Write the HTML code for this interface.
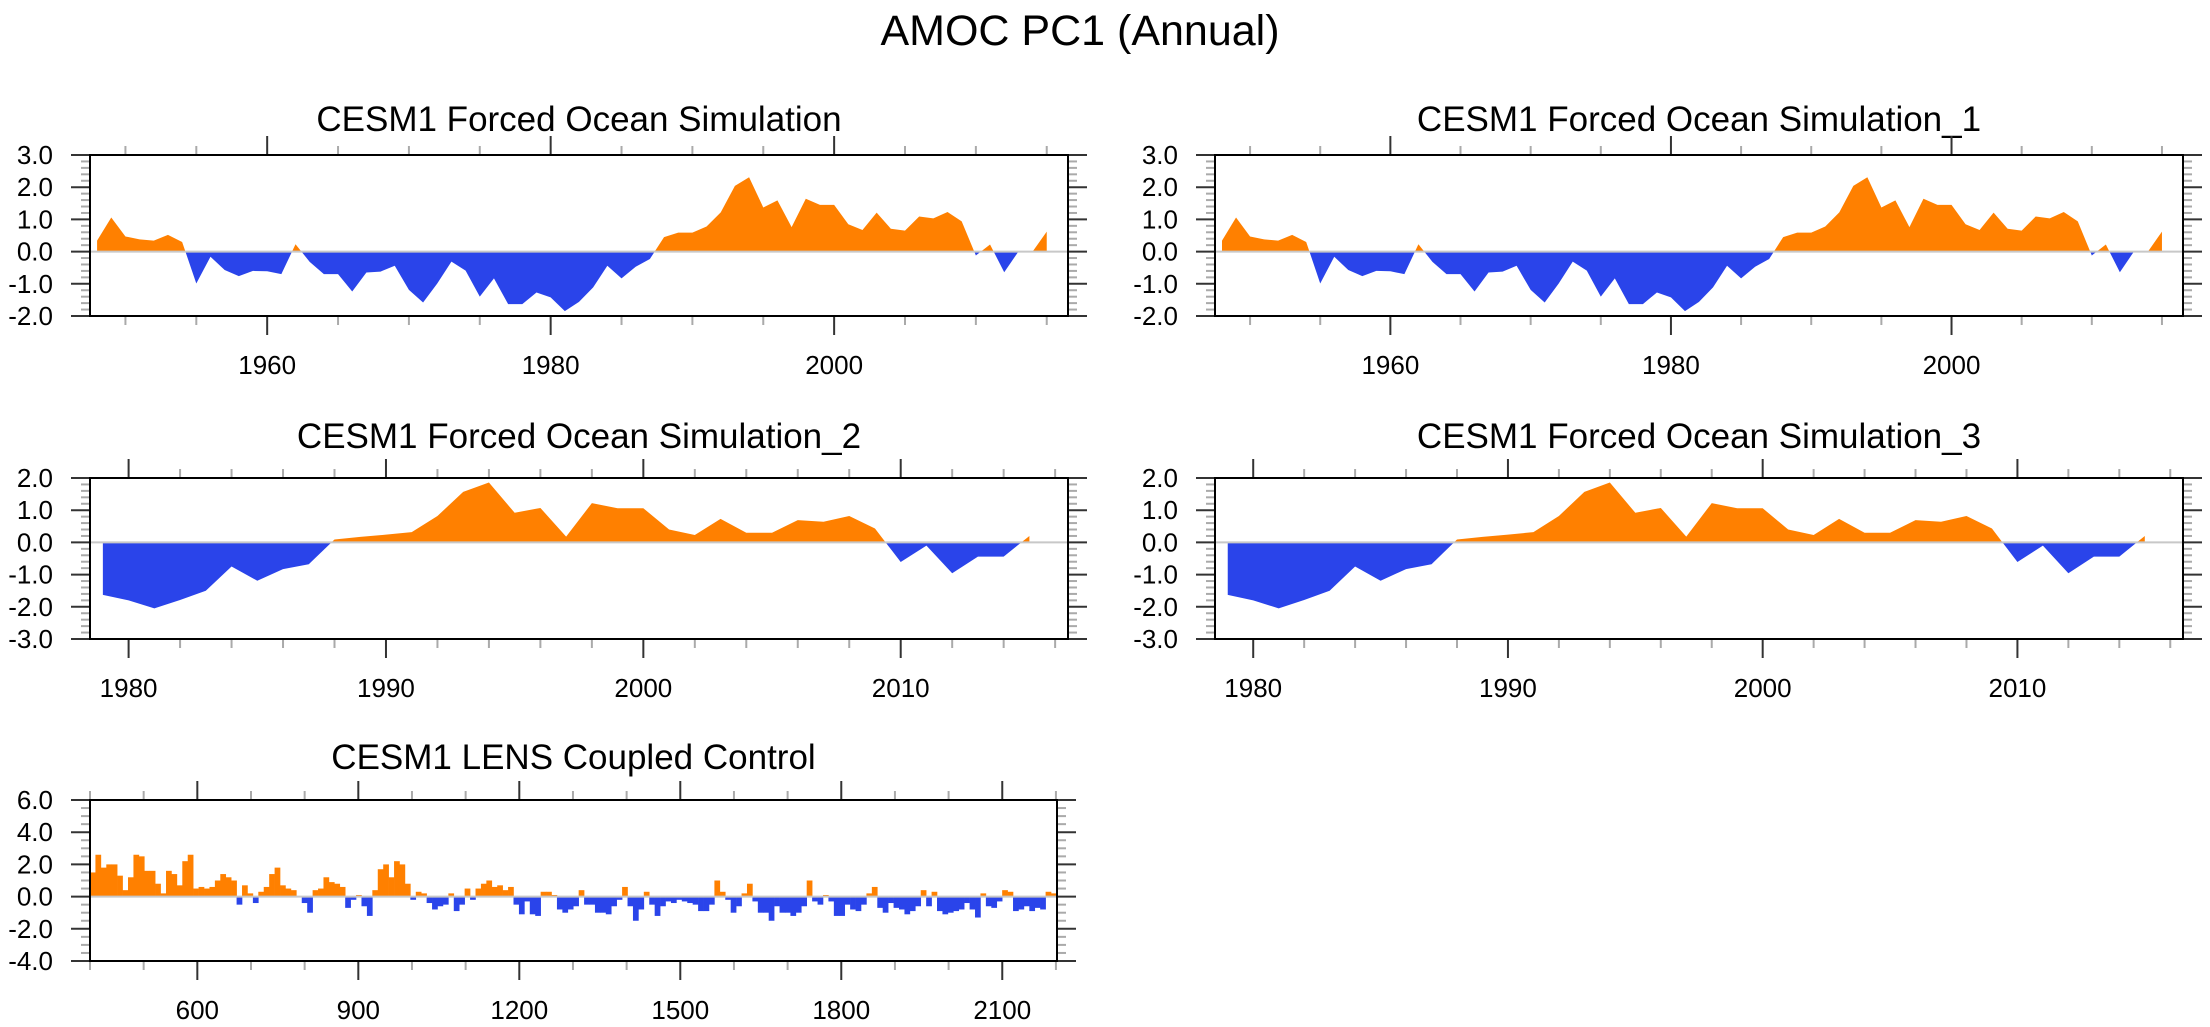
<!DOCTYPE html>
<html><head><meta charset="utf-8">
<style>
html,body{margin:0;padding:0;background:#fff;}
svg{display:block;font-family:"Liberation Sans",Arial,sans-serif;}
</style></head>
<body>
<svg id="fig" width="2210" height="1027" viewBox="0 0 2210 1027" xmlns="http://www.w3.org/2000/svg">
<rect width="2210" height="1027" fill="#fff"/>
<text x="1080" y="45" font-size="43" text-anchor="middle" fill="#000">AMOC PC1 (Annual)</text>
</svg>
<script>
// ---- data ----
const forcedYears = [1948,1949,1950,1951,1952,1953,1954,1955,1956,1957,1958,1959,1960,1961,1962,1963,1964,1965,1966,1967,1968,1969,1970,1971,1972,1973,1974,1975,1976,1977,1978,1979,1980,1981,1982,1983,1984,1985,1986,1987,1988,1989,1990,1991,1992,1993,1994,1995,1996,1997,1998,1999,2000,2001,2002,2003,2004,2005,2006,2007,2008,2009,2010,2011,2012,2013,2014,2015];
const forcedValues = [0.34,1.06,0.47,0.38,0.34,0.52,0.30,-0.99,-0.16,-0.57,-0.76,-0.60,-0.61,-0.70,0.23,-0.32,-0.70,-0.70,-1.24,-0.65,-0.62,-0.44,-1.19,-1.58,-0.99,-0.31,-0.59,-1.40,-0.83,-1.63,-1.63,-1.27,-1.42,-1.85,-1.56,-1.11,-0.44,-0.83,-0.47,-0.23,0.45,0.59,0.59,0.78,1.22,2.04,2.31,1.37,1.59,0.76,1.64,1.45,1.45,0.85,0.67,1.21,0.71,0.65,1.09,1.03,1.23,0.94,-0.12,0.22,-0.64,0.0,0.0,0.62];
const shortYears = [1979,1980,1981,1982,1983,1984,1985,1986,1987,1988,1989,1990,1991,1992,1993,1994,1995,1996,1997,1998,1999,2000,2001,2002,2003,2004,2005,2006,2007,2008,2009,2010,2011,2012,2013,2014,2015];
const shortValues = [-1.63,-1.80,-2.05,-1.79,-1.50,-0.75,-1.19,-0.83,-0.68,0.09,0.17,0.24,0.32,0.82,1.57,1.86,0.92,1.07,0.18,1.22,1.06,1.06,0.40,0.23,0.73,0.30,0.30,0.69,0.64,0.82,0.43,-0.61,-0.10,-0.96,-0.44,-0.44,0.20];
const controlStartYear = 400;
const controlEndYear = 2201;
const controlValues = [1.5,2.6,1.8,2.0,2.0,1.3,0.4,1.2,2.6,2.5,1.6,1.6,0.8,0.2,1.6,1.4,0.7,2.2,2.6,0.5,
0.6,0.5,0.6,1.0,1.4,1.2,1.0,-0.5,0.7,0.2,-0.4,0.3,0.6,1.4,1.8,0.7,0.5,0.4,0.0,-0.4,
-1.0,0.4,0.5,1.2,0.9,0.8,0.6,-0.7,-0.2,0.1,-0.6,-1.2,0.4,1.7,2.0,1.2,2.2,2.0,0.8,-0.2,
0.3,0.2,-0.4,-0.8,-0.6,-0.5,0.2,-0.9,-0.5,0.5,-0.2,0.5,0.8,1.0,0.6,0.7,0.4,0.6,-0.5,-1.1,
-0.3,-1.1,-1.2,0.3,0.3,0.1,-0.8,-1.0,-0.8,-0.6,
0.4,-0.5,-0.5,-1.0,-1.0,-1.1,-0.6,-0.2,0.6,-0.6,-1.5,-0.8,0.3,-0.5,-1.2,-0.6,-0.3,-0.4,-0.2,-0.3,
-0.4,-0.5,-0.9,-0.9,-0.5,1.0,0.3,-0.2,-1.0,-0.6,0.2,0.8,-0.3,-1.0,-1.0,-1.5,-0.6,-1.0,-1.0,-1.2,
-1.0,-0.6,1.0,-0.3,-0.5,0.1,-0.3,-1.2,-1.2,-0.5,-0.8,-0.9,-0.5,0.2,0.6,-0.7,-1.0,-0.4,-0.7,-0.8,
-1.1,-0.9,-0.6,0.4,-0.6,0.3,-0.9,-1.1,-1.0,-0.9,-0.8,-0.4,-0.8,-1.3,0.2,-0.6,-0.7,-0.3,0.4,0.3,
-0.9,-0.8,-0.6,-0.9,-0.7,-0.8,0.3,0.2];
const yTicks5 = ["3.0","2.0","1.0","0.0","-1.0","-2.0"];
const yTicks34 = ["2.0","1.0","0.0","-1.0","-2.0","-3.0"];
const yTicksCtl = ["6.0","4.0","2.0","0.0","-2.0","-4.0"];
const xLabelsForced = [1960,1980,2000];
const xLabelsShort = [1980,1990,2000,2010];
const xLabelsCtl = [600,900,1200,1500,1800,2100];

const NS = "http://www.w3.org/2000/svg";
const svg = document.getElementById('fig');
const ORANGE = "#ff8000", BLUE = "#2a44ea";
function mk(tag, attrs, parent){const e=document.createElementNS(NS,tag);for(const k in attrs)e.setAttribute(k,attrs[k]);(parent||svg).appendChild(e);return e;}
let clipId=0;

function panel(cfg){
  const g = mk('g',{});
  
  
  const xs = v => cfg.x0 + (v-cfg.xmin)/(cfg.xmax-cfg.xmin)*(cfg.x1-cfg.x0);
  const ys = v => cfg.y1 - (v-cfg.ymin)/(cfg.ymax-cfg.ymin)*(cfg.y1-cfg.y0);
  const zy = ys(0);
  // title
  const t = mk('text',{x:(cfg.x0+cfg.x1)/2,y:cfg.titleY,'font-size':35,'text-anchor':'middle',fill:'#000'},g);
  t.textContent = cfg.title;
  
  
  // data
  const dg = mk('g',{},g);
  
  
  if(cfg.years){
    let d = `M${xs(cfg.years[0])},${zy}`;
    cfg.years.forEach((yr,i)=>{ d += ` L${xs(yr)},${ys(cfg.values[i])}`; });
    d += ` L${xs(cfg.years[cfg.years.length-1])},${zy} Z`;
    const ida='ca'+(clipId++), idb='cb'+(clipId++);
    const defs = mk('defs',{},g);
    const c1 = mk('clipPath',{id:ida},defs); mk('rect',{x:cfg.x0,y:cfg.y0,width:cfg.x1-cfg.x0,height:zy-cfg.y0},c1);
    const c2 = mk('clipPath',{id:idb},defs); mk('rect',{x:cfg.x0,y:zy,width:cfg.x1-cfg.x0,height:cfg.y1-zy},c2);
    const pa = mk('path',{d:d,fill:ORANGE,'clip-path':`url(#${ida})`},dg);
    
    
    const pb = mk('path',{d:d,fill:BLUE,'clip-path':`url(#${idb})`},dg);
    
    
  } else {
    const n = cfg.bins.length;
    const w = (cfg.binEnd-cfg.binStart)/n;
    cfg.bins.forEach((v,i)=>{
      const xa = xs(cfg.binStart+i*w), xb = xs(cfg.binStart+(i+1)*w);
      const yv = ys(v);
      const r = mk('rect',{x:xa,y:Math.min(yv,zy),width:xb-xa+0.3,height:Math.abs(yv-zy),fill:v>=0?ORANGE:BLUE},dg);
      
      
    });
  }
  mk('line',{x1:cfg.x0,x2:cfg.x1,y1:zy,y2:zy,stroke:'#c8c8c8','stroke-width':2},g);
  // y ticks
  for(let v=cfg.ymin; v<=cfg.ymax+1e-9; v+=cfg.yminor){
    const y=ys(v); const major = Math.abs(v/cfg.ymajor-Math.round(v/cfg.ymajor))<1e-6;
    const L = major?19:9;
    mk('line',{x1:cfg.x0-L,x2:cfg.x0,y1:y,y2:y,stroke:major?'#333':'#aaa','stroke-width':2},g);
    mk('line',{x1:cfg.x1,x2:cfg.x1+L,y1:y,y2:y,stroke:major?'#333':'#aaa','stroke-width':2},g);
  }
  cfg.yLabels.forEach((lab,i)=>{
    const v = cfg.ymax - i*cfg.ymajor;
    const tx = mk('text',{x:cfg.x0-37,y:ys(v)+9,'font-size':26,'text-anchor':'end',fill:'#000'},g);
    tx.textContent = lab;
    
    
  });
  // x ticks
  const start = Math.ceil(cfg.xmin/cfg.xminor)*cfg.xminor;
  for(let v=start; v<=cfg.xmax; v+=cfg.xminor){
    const x=xs(v); const major = cfg.xLabels.includes(v);
    const L = major?19:9;
    mk('line',{x1:x,x2:x,y1:cfg.y1,y2:cfg.y1+L,stroke:major?'#333':'#aaa','stroke-width':2},g);
    mk('line',{x1:x,x2:x,y1:cfg.y0-L,y2:cfg.y0,stroke:major?'#333':'#aaa','stroke-width':2},g);
  }
  cfg.xLabels.forEach(v=>{
    const tx = mk('text',{x:xs(v),y:cfg.y1+58,'font-size':26,'text-anchor':'middle',fill:'#000'},g);
    tx.textContent = v;
    
    
  });
  // frame
  const fr = mk('rect',{x:cfg.x0,y:cfg.y0,width:cfg.x1-cfg.x0,height:cfg.y1-cfg.y0,fill:'none',stroke:'#000','stroke-width':2},g);
  
  
}

const forcedBase = {xmin:1947.5,xmax:2016.5,ymin:-2,ymax:3,ymajor:1,yminor:0.2,xminor:5,xLabels:xLabelsForced,yLabels:yTicks5,years:forcedYears,values:forcedValues};
const shortBase = {xmin:1978.5,xmax:2016.5,ymin:-3,ymax:2,ymajor:1,yminor:0.2,xminor:2,xLabels:xLabelsShort,yLabels:yTicks34,years:shortYears,values:shortValues};
panel(Object.assign({},forcedBase,{name:'panel-forced-ocean',title:'CESM1 Forced Ocean Simulation',x0:90,x1:1068,y0:155,y1:316,titleY:131}));
panel(Object.assign({},forcedBase,{name:'panel-forced-ocean-1',title:'CESM1 Forced Ocean Simulation_1',x0:1215,x1:2183,y0:155,y1:316,titleY:131}));
panel(Object.assign({},shortBase,{name:'panel-forced-ocean-2',title:'CESM1 Forced Ocean Simulation_2',x0:90,x1:1068,y0:478,y1:639,titleY:448}));
panel(Object.assign({},shortBase,{name:'panel-forced-ocean-3',title:'CESM1 Forced Ocean Simulation_3',x0:1215,x1:2183,y0:478,y1:639,titleY:448}));
panel({name:'panel-lens-control',title:'CESM1 LENS Coupled Control',x0:90,x1:1057,y0:800,y1:961,titleY:769,
  xmin:400,xmax:2202,ymin:-4,ymax:6,ymajor:2,yminor:0.5,xminor:100,xLabels:xLabelsCtl,yLabels:yTicksCtl,
  bins:controlValues,binStart:controlStartYear,binEnd:controlEndYear});
</script>
</body></html>
